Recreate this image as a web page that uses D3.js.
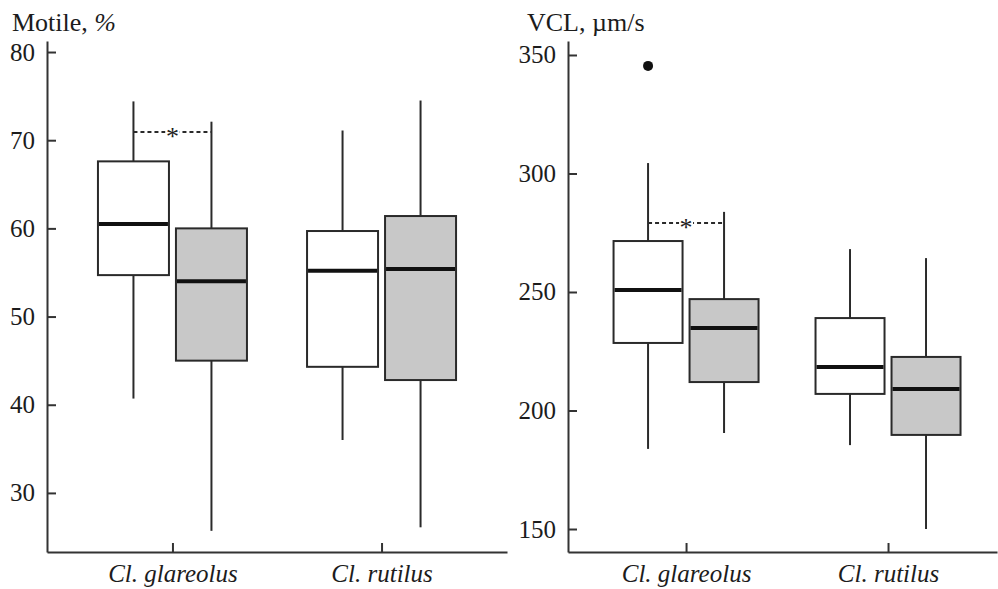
<!DOCTYPE html>
<html lang="en">
<head>
<meta charset="UTF-8">
<script src="https://cdn.jsdelivr.net/npm/d3@7"></script>
<title>Motile and VCL boxplots</title>
<style>
    body { margin: 0; background: #fff; }
    .axis path, .axis line { stroke: #333; stroke-width: 2px; }
</style>
</head>
<body>
<svg id="chart" width="998" height="589"></svg>
<script>
    const species = ["Cl. glareolus", "Cl. rutilus"];
    const groups = ["white", "gray"];

    // box stats per species: [min, q1, median, q3, max]
    const motileWhite = [[40.7, 54.7, 60.5, 67.6, 74.4], [36.0, 44.3, 55.2, 59.7, 71.1]];
    const motileGray = [[25.7, 45.0, 54.0, 60.0, 72.1], [26.1, 42.8, 55.4, 61.4, 74.5]];
    const motileTicks = [30, 40, 50, 60, 70, 80];
    const motileSig = [{ species: "Cl. glareolus", value: 70.9 }];
    const motileOutliers = [];

    const vclWhite = [[183.8, 228.5, 250.8, 271.5, 304.4], [185.4, 207.0, 218.4, 239.0, 268.1]];
    const vclGray = [[190.5, 212.0, 234.8, 247.0, 283.8], [150.0, 189.7, 209.1, 222.6, 264.3]];
    const vclTicks = [150, 200, 250, 300, 350];
    const vclSig = [{ species: "Cl. glareolus", value: 279.1 }];
    const vclOutliers = [{ species: "Cl. glareolus", group: "white", value: 345.4 }];

    const FONT = '"Liberation Serif", "Times New Roman", serif';
    const ink = "#1c1c1c";
    const fills = { white: "#ffffff", gray: "#c8c8c8" };
    const svg = d3.select("#chart");
    const plotTop = 41, plotBottom = 552;

    const panels = [
        { title: ["Motile, ", "%"], titleX: 12, x0: 47, x1: 507, domain: [23.3, 81.25],
          ticks: motileTicks, white: motileWhite, gray: motileGray, sig: motileSig,
          outliers: motileOutliers, padding: 0.6, align: 0.5, sub: 39, boxW: 71 },
        { title: ["VCL, µm/s", ""], titleX: 527, x0: 568, x1: 997, domain: [140.3, 355.9],
          ticks: vclTicks, white: vclWhite, gray: vclGray, sig: vclSig,
          outliers: vclOutliers, padding: 0.562, align: 0.52, sub: 38, boxW: 69 }
    ];

    const drawPanel = p => {
        const g = svg.append("g");
        const y = d3.scaleLinear().domain(p.domain).range([plotBottom, plotTop]);
        const x = d3.scalePoint().domain(species).range([p.x0, p.x1])
            .padding(p.padding).align(p.align);
        const sub = d3.scalePoint().domain(groups).range([-p.sub, p.sub]);

        // axes, ticks pointing inward
        g.append("g").attr("class", "axis")
            .attr("transform", `translate(${p.x0},0)`)
            .call(d3.axisLeft(y).tickValues(p.ticks).tickSizeInner(-9).tickSizeOuter(0).tickPadding(12))
            .call(a => a.selectAll("text").style("font-family", FONT).style("font-size", "25px").attr("fill", ink));

        g.append("g").attr("class", "axis")
            .attr("transform", `translate(0,${plotBottom})`)
            .call(d3.axisBottom(x).tickSizeInner(-9).tickSizeOuter(0).tickPadding(12))
            .call(a => a.selectAll("text").style("font-family", FONT).style("font-size", "25px")
                .style("font-style", "italic").attr("fill", ink));

        const t = g.append("text").attr("x", p.titleX).attr("y", 31)
            .style("font-family", FONT).style("font-size", "26px").attr("fill", ink);
        t.append("tspan").text(p.title[0]);
        t.append("tspan").style("font-style", "italic").text(p.title[1]);

        const boxes = [];
        species.forEach((s, i) => {
            boxes.push({ s, grp: "white", v: p.white[i] });
            boxes.push({ s, grp: "gray", v: p.gray[i] });
        });

        const b = g.selectAll(".box").data(boxes).join("g")
            .attr("class", "box")
            .attr("transform", d => `translate(${x(d.s) + sub(d.grp)},0)`);

        // whiskers
        b.append("line").attr("y1", d => y(d.v[0])).attr("y2", d => y(d.v[1]))
            .attr("stroke", "#2a2a2a").attr("stroke-width", 2);
        b.append("line").attr("y1", d => y(d.v[3])).attr("y2", d => y(d.v[4]))
            .attr("stroke", "#2a2a2a").attr("stroke-width", 2);

        b.append("rect")
            .attr("x", -p.boxW / 2).attr("width", p.boxW)
            .attr("y", d => y(d.v[3])).attr("height", d => y(d.v[1]) - y(d.v[3]))
            .attr("fill", d => fills[d.grp]).attr("stroke", "#2a2a2a").attr("stroke-width", 2);

        b.append("line")
            .attr("x1", -p.boxW / 2 + 1).attr("x2", p.boxW / 2 - 1)
            .attr("y1", d => y(d.v[2])).attr("y2", d => y(d.v[2]))
            .attr("stroke", "#111").attr("stroke-width", 4);

        g.selectAll(".outlier").data(p.outliers).join("circle")
            .attr("cx", d => x(d.species) + sub(d.group)).attr("cy", d => y(d.value))
            .attr("r", 5).attr("fill", "#111");

        // significance marks
        const sg = g.selectAll(".sig").data(p.sig).join("g").attr("class", "sig");
        sg.append("line")
            .attr("x1", d => x(d.species) + sub("white")).attr("x2", d => x(d.species) + sub("gray"))
            .attr("y1", d => Math.round(y(d.value))).attr("y2", d => Math.round(y(d.value)))
            .attr("stroke", "#2a2a2a").attr("stroke-width", 2).attr("stroke-dasharray", "4,3");
        sg.append("rect")
            .attr("x", d => x(d.species) - 7).attr("y", d => y(d.value) - 8)
            .attr("width", 14).attr("height", 16).attr("fill", "#fff");
        sg.append("text")
            .attr("x", d => x(d.species)).attr("y", d => y(d.value))
            .attr("dy", "0.5em").attr("text-anchor", "middle")
            .style("font-family", FONT).style("font-size", "26px").attr("fill", ink)
            .text("*");
    };

    panels.forEach(drawPanel);
</script>
</body>
</html>
